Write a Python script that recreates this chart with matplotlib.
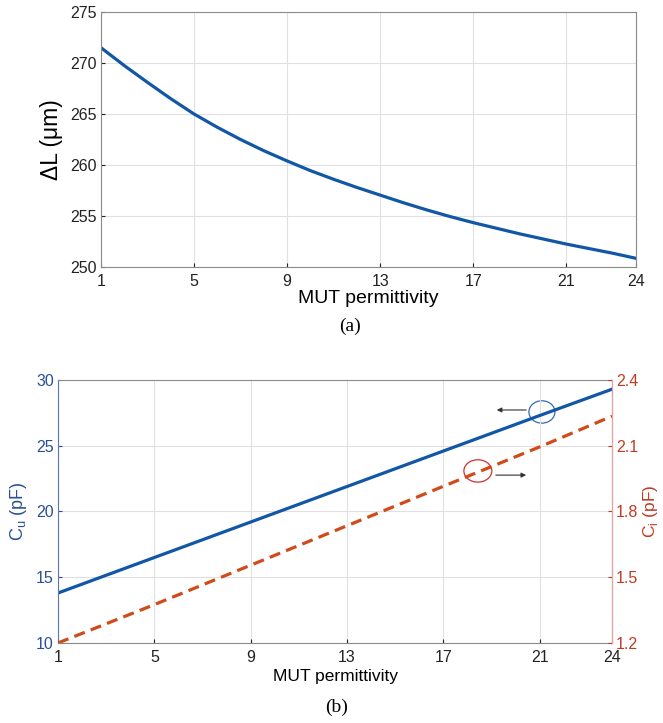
import matplotlib
matplotlib.use("Agg")
import matplotlib.pyplot as plt
from matplotlib.patches import Ellipse

# ---- data (a) ----
perm_a = list(range(1, 25))
dL = [271.5, 269.75, 268.1, 266.5, 265.0, 263.7, 262.5, 261.4, 260.4, 259.45,
      258.6, 257.8, 257.05, 256.3, 255.6, 254.95, 254.35, 253.8, 253.25, 252.75,
      252.25, 251.8, 251.35, 250.85]

# ---- data (b) ----
perm_b = [1, 5, 9, 13, 17, 21, 24]
Cu = [13.8, 16.5, 19.2, 21.9, 24.6, 27.3, 29.3]
Ci = [1.2, 1.375, 1.555, 1.735, 1.915, 2.095, 2.235]

xticks = [1, 5, 9, 13, 17, 21, 24]
yticks_a = [250, 255, 260, 265, 270, 275]
yticks_cu = [10, 15, 20, 25, 30]
yticks_ci = [1.2, 1.5, 1.8, 2.1, 2.4]

plt.rcParams['font.family'] = ['Liberation Sans', 'DejaVu Sans']

blue = '#1257a6'
blue_txt = '#2a4f96'
red = '#d04a1a'
red_txt = '#c23a22'
grid_c = '#e0e0e0'
spine_c = '#8a8a8a'
TICK = 11.5

fig = plt.figure(figsize=(6.63, 7.23), dpi=100)

# ---------- (a) ----------
ax1 = fig.add_axes([0.1523, 0.6307, 0.807, 0.3527])
ax1.plot(perm_a, dL, color=blue, lw=2.3)
ax1.set_xlim(1, 24)
ax1.set_ylim(250, 275)
ax1.set_xticks(xticks)
ax1.set_yticks(yticks_a)
ax1.grid(True, color=grid_c, lw=0.8)
ax1.tick_params(direction='in', labelsize=TICK, colors='#222222', length=3)
ax1.tick_params(axis='x', pad=5)
ax1.tick_params(axis='y', pad=3)
for s in ax1.spines.values():
    s.set_color(spine_c)
ax1.set_xlabel('MUT permittivity', fontsize=14, labelpad=1)
ax1.set_ylabel('ΔL (μm)', fontsize=16.5, labelpad=5)
fig.text(0.528, 0.548, '(a)', ha='center', va='center', fontsize=14, family='Liberation Serif')

# ---------- (b) ----------
ax2 = fig.add_axes([0.0875, 0.1107, 0.8356, 0.3637])
ax2.plot(perm_b, Cu, color=blue, lw=2.3)
ax2.set_xlim(1, 24)
ax2.set_ylim(10, 30)
ax2.set_xticks(xticks)
ax2.set_yticks(yticks_cu)
ax2.grid(True, color=grid_c, lw=0.8)
ax2.tick_params(axis='x', direction='in', labelsize=TICK, colors='#222222', length=3, pad=5)
ax2.tick_params(axis='y', direction='in', labelsize=TICK, colors=blue_txt, length=3, pad=3)
for s in ax2.spines.values():
    s.set_color(spine_c)
ax2.spines['left'].set_color('#5a78b0')
ax2.set_xlabel('MUT permittivity', fontsize=12.5, labelpad=3)
ax2.set_ylabel('C$_\\mathregular{u}$ (pF)', fontsize=13, color=blue_txt, labelpad=5)

ax3 = ax2.twinx()
ax3.plot(perm_b, Ci, color=red, lw=2.3, ls=(0, (3.5, 2)))
ax3.set_ylim(1.2, 2.4)
ax3.set_yticks(yticks_ci)
ax3.set_yticklabels([f'{v:.1f}' for v in yticks_ci])
ax3.tick_params(axis='y', direction='in', labelsize=TICK, colors=red_txt, length=3, pad=3)
ax3.spines['right'].set_color('#e8a0a0')
for k in ['top', 'left', 'bottom']:
    ax3.spines[k].set_visible(False)
ax3.set_ylabel('C$_\\mathregular{i}$ (pF)', fontsize=12.5, color=red_txt, labelpad=2)

# annotations: circles and arrows
ax2.add_patch(Ellipse((21.09, 27.57), 1.08, 1.7, fill=False, ec='#3a6ab0', lw=0.9))
ax2.annotate('', xy=(19.1, 27.72), xytext=(20.55, 27.72),
             arrowprops=dict(arrowstyle='-|>', color='#333333', lw=0.8, mutation_scale=7))
ax3.add_patch(Ellipse((18.43, 1.985), 1.16, 0.102, fill=False, ec='#d03030', lw=0.9))
ax3.annotate('', xy=(20.55, 1.966), xytext=(19.06, 1.966),
             arrowprops=dict(arrowstyle='-|>', color='#333333', lw=0.8, mutation_scale=7))

fig.text(0.508, 0.021, '(b)', ha='center', va='center', fontsize=14, family='Liberation Serif')

fig.savefig('out.png', dpi=100)
